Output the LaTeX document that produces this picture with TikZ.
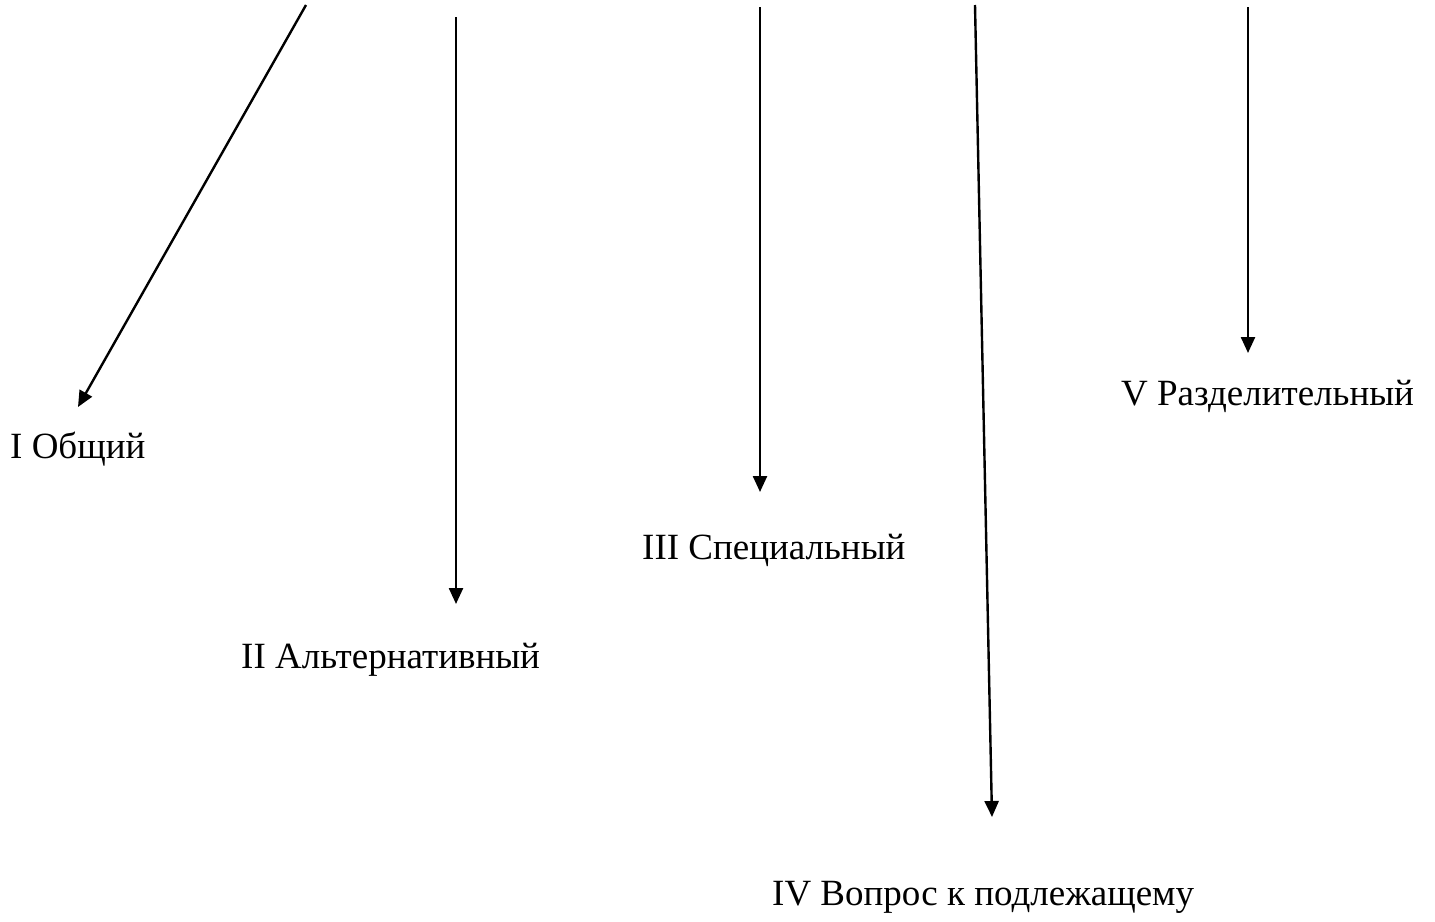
\documentclass[tikz,border=0pt]{standalone}
\usepackage{fontspec}
\setmainfont{Liberation Serif}
\usetikzlibrary{arrows.meta}
\begin{document}
\begin{tikzpicture}[x=1pt,y=-1pt,
  arr/.style={line width=2.4pt,-{Triangle[length=16pt,width=14pt]}},
  lab/.style={anchor=base west,inner sep=0pt,font=\fontsize{37}{44}\selectfont}]
\useasboundingbox (0,0) rectangle (1435,921);
\coordinate (s1) at (306,5);
\coordinate (s2) at (456,17);
\coordinate (s3) at (760,7);
\coordinate (s4) at (975,5);
\coordinate (s5) at (1248,7);
\coordinate (e1) at (78,407);
\coordinate (e2) at (456,604);
\coordinate (e3) at (760,492);
\coordinate (e4) at (992,817);
\coordinate (e5) at (1248,353);
\node[lab] (l1) at (10,458) {I Общий};
\node[lab] (l2) at (241,668) {II Альтернативный};
\node[lab] (l3) at (642,559) {III Специальный};
\node[lab] (l4) at (772,905) {IV Вопрос к подлежащему};
\node[lab] (l5) at (1121,405) {V Разделительный};
\draw[arr] (s1) -- (e1);
\draw[arr] (s2) -- (e2);
\draw[arr] (s3) -- (e3);
\draw[arr] (s4) -- (e4);
\draw[arr] (s5) -- (e5);
\end{tikzpicture}
\end{document}
